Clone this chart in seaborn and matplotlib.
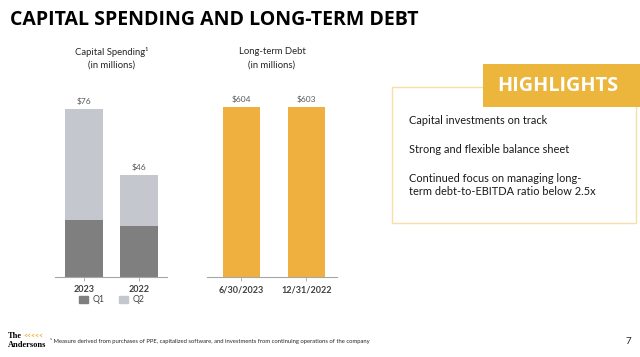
import matplotlib
matplotlib.use("Agg")
import matplotlib.pyplot as plt
import seaborn as sns
from matplotlib.patches import Rectangle, Patch

# data
years = ["2023", "2022"]
q1_spend = [26, 23]
q2_spend = [50, 23]
debt_dates = ["6/30/2023", "12/31/2022"]
debt_values = [604, 603]
highlights = [
    "Capital investments on track",
    "Strong and flexible balance sheet",
    "Continued focus on managing long-\nterm debt-to-EBITDA ratio below 2.5x",
]

W, H = 640, 357
Q1_COLOR = "#7f7f7f"
Q2_COLOR = "#c5c7cf"
GOLD = "#efb040"
TEXT = "#404040"

sns.set_theme(style="white")
plt.rcParams["font.family"] = ["Lato", "DejaVu Sans"]

fig = plt.figure(figsize=(W / 100, H / 100), dpi=100)
fig.patch.set_facecolor("white")


def px_axes(x0, y0, x1, y1):
    # pixel box (top-left origin) -> figure axes
    return fig.add_axes([x0 / W, 1 - y1 / H, (x1 - x0) / W, (y1 - y0) / H])


def style_axis(ax):
    for s in ["top", "right", "left"]:
        ax.spines[s].set_visible(False)
    ax.spines["bottom"].set_color("#a6a6a6")
    ax.spines["bottom"].set_linewidth(0.8)
    ax.set_yticks([])
    ax.set_xlabel("")
    ax.set_ylabel("")
    ax.tick_params(axis="x", length=3, width=0.6, color="#a6a6a6",
                   labelsize=6.5, labelcolor=TEXT, pad=3, bottom=True)
    for lbl in ax.get_xticklabels():
        lbl.set_fontweight("bold")


# capital spending (stacked)
ax1 = px_axes(55, 95, 167, 277)
totals = [a + b for a, b in zip(q1_spend, q2_spend)]
sns.barplot(x=years, y=totals, color=Q2_COLOR, width=0.685, saturation=1,
            linewidth=0, ax=ax1)
sns.barplot(x=years, y=q1_spend, color=Q1_COLOR, width=0.685, saturation=1,
            linewidth=0, ax=ax1)
ax1.bar_label(ax1.containers[0], labels=[f"${v}" for v in totals],
              fontsize=6, color="#595959", padding=3)
ax1.set_xlim(-0.52, 1.50)
ax1.set_ylim(0, 82.3)
style_axis(ax1)

# long-term debt
ax2 = px_axes(207, 95, 337, 277)
sns.barplot(x=debt_dates, y=debt_values, color=GOLD, width=0.57, saturation=1,
            linewidth=0, ax=ax2)
ax2.bar_label(ax2.containers[0], labels=[f"${v}" for v in debt_values],
              fontsize=6, color="#595959", padding=3)
ax2.set_xlim(-0.53, 1.47)
ax2.set_ylim(0, 646)
style_axis(ax2)

# legend for capital spending
fig.legend(handles=[Patch(color=Q1_COLOR, label="Q1"), Patch(color=Q2_COLOR, label="Q2")],
           loc="center", bbox_to_anchor=(112 / W, 1 - 300 / H), ncol=2, frameon=False,
           fontsize=6.3, labelcolor=TEXT, handlelength=1.0, handleheight=1.0,
           columnspacing=1.6, handletextpad=0.6)

# chart titles
for cx, title in [(112, "Capital Spending\u00b9"), (272, "Long-term Debt")]:
    fig.text(cx / W, 1 - 52 / H, title, ha="center", va="center", fontsize=6.8, color="#262626")
    fig.text(cx / W, 1 - 65 / H, "(in millions)", ha="center", va="center", fontsize=6.8, color="#262626")

# slide title
fig.text(10 / W, 1 - 20 / H, "CAPITAL SPENDING AND LONG-TERM DEBT", ha="left", va="center",
         fontsize=14, fontweight="bold", color="black", family=["Open Sans", "DejaVu Sans"])

# highlights panel
fig.patches.append(Rectangle((392 / W, 1 - 223 / H), (636 - 392) / W, (223 - 87) / H,
                             transform=fig.transFigure, fill=False,
                             edgecolor="#f6e0a8", linewidth=1.0))
fig.patches.append(Rectangle((483 / W, 1 - 107 / H), (640 - 483) / W, (107 - 64) / H,
                             transform=fig.transFigure, facecolor="#ecb53b",
                             edgecolor="none", zorder=3))
fig.text(558 / W, 1 - 86 / H, "HIGHLIGHTS", ha="center", va="center", fontsize=14.3,
         fontweight="bold", color="white", zorder=4, family=["Open Sans", "DejaVu Sans"])
for y, line in zip([120, 149, 185], highlights):
    fig.text(409 / W, 1 - y / H, line, ha="left", va="center", fontsize=7.9,
             color="#1a1a1a", linespacing=1.25)

# footnote, page number, logo
fig.text(50 / W, 1 - 341 / H,
         "\u00b9 Measure derived from purchases of PPE, capitalized software, and investments "
         "from continuing operations of the company",
         ha="left", va="center", fontsize=4.2, color="#262626")
fig.text(628 / W, 1 - 341 / H, "7", ha="center", va="center", fontsize=7, color="#262626")
fig.text(8 / W, 1 - 336 / H, "The", ha="left", va="center", fontsize=6,
         fontweight="bold", family=["Liberation Serif", "DejaVu Serif"], color="black")
fig.text(8 / W, 1 - 345 / H, "Andersons", ha="left", va="center", fontsize=6,
         fontweight="bold", family=["Liberation Serif", "DejaVu Serif"], color="black")
fig.text(23 / W, 1 - 335 / H, "<<<<<", ha="left", va="center", fontsize=5,
         fontweight="bold", color="#efb040")

fig.savefig("out.png", dpi=100, facecolor="white")
